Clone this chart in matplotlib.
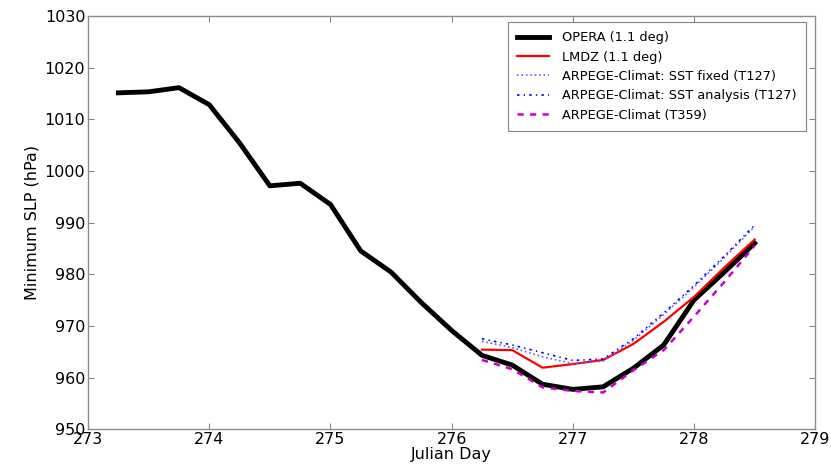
import numpy as np
import matplotlib
matplotlib.use("Agg")
import matplotlib.pyplot as plt

# Julian days (6-hourly)
day_opera = [273.25, 273.5, 273.75, 274.0, 274.25, 274.5, 274.75, 275.0, 275.25,
             275.5, 275.75, 276.0, 276.25, 276.5, 276.75, 277.0, 277.25, 277.5,
             277.75, 278.0, 278.25, 278.5]
slp_opera = [1015.1, 1015.3, 1016.1, 1012.8, 1005.4, 997.1, 997.6, 993.5, 984.5,
             980.4, 974.5, 969.1, 964.3, 962.4, 958.7, 957.7, 958.2, 961.8,
             966.3, 975.0, 980.4, 986.0]

day_model = [276.25, 276.5, 276.75, 277.0, 277.25, 277.5, 277.75, 278.0, 278.25, 278.5]
slp_lmdz = [965.4, 965.3, 961.9, 962.6, 963.4, 966.5, 970.8, 975.6, 981.3, 986.7]
slp_sst_fixed = [967.0, 965.8, 964.0, 962.7, 963.2, 967.2, 972.2, 977.5, 983.2, 989.2]
slp_sst_analysis = [967.5, 966.3, 964.8, 963.3, 963.6, 967.5, 972.5, 977.8, 983.5, 989.5]
slp_t359 = [963.4, 961.6, 958.1, 957.4, 957.1, 961.4, 965.3, 971.8, 978.5, 985.5]

fig = plt.figure(figsize=(8.31, 4.66), dpi=100, facecolor="white")
ax = fig.add_axes([0.106, 0.079, 0.875, 0.887])

ax.plot(day_opera, slp_opera, color="black", lw=3.5, label="OPERA (1.1 deg)")
ax.plot(day_model, slp_lmdz, color="red", lw=1.6, label="LMDZ (1.1 deg)")
ax.plot(day_model, slp_sst_fixed, color="#6060ff", lw=1.2, ls=":",
        label="ARPEGE-Climat: SST fixed (T127)")
ax.plot(day_model, slp_sst_analysis, color="blue", lw=1.2, ls="-.",
        dashes=(1.5, 2.5, 0.8, 2.5), label="ARPEGE-Climat: SST analysis (T127)")
ax.plot(day_model, slp_t359, color="#cc00cc", lw=1.8, ls="--",
        dashes=(2.5, 2.5), label="ARPEGE-Climat (T359)")

ax.set_xlim(273, 279)
ax.set_ylim(950, 1030)
ax.set_xticks(np.arange(273, 280, 1))
ax.set_yticks(np.arange(950, 1031, 10))
ax.tick_params(direction="in", top=True, right=True, labelsize=11.5,
               length=4, width=0.6, color="0.4", pad=2)
for s in ax.spines.values():
    s.set_color("0.55")
    s.set_linewidth(1.0)

ax.set_xlabel("Julian Day", fontsize=11.5, labelpad=0)
ax.set_ylabel("Minimum SLP (hPa)", fontsize=11.5, labelpad=4)

leg = ax.legend(loc="upper right", fontsize=9.3, handlelength=2.5,
                handletextpad=1.0, borderpad=0.7, borderaxespad=0,
                fancybox=False, labelspacing=0.5,
                bbox_to_anchor=(0.987, 0.985))
leg.get_frame().set_edgecolor("0.4")
leg.get_frame().set_linewidth(0.8)

plt.savefig("out.png", dpi=100, facecolor="white")
